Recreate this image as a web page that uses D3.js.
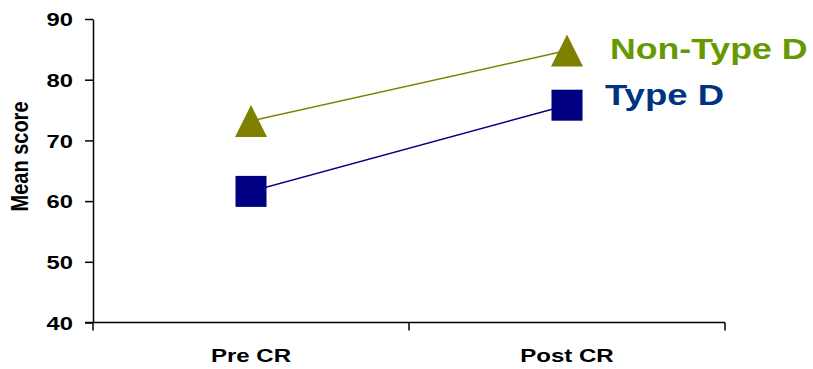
<!DOCTYPE html>
<html>
<head>
<meta charset="utf-8">
<script src="https://cdn.jsdelivr.net/npm/d3@7"></script>
<style>
  html, body { margin: 0; padding: 0; background: #fff; }
  svg { display: block; font-family: "Liberation Sans", Arial, sans-serif; font-weight: bold; }
</style>
</head>
<body>
<svg id="chart" width="813" height="369"></svg>
<script>
// Mean scores before and after cardiac rehabilitation
const categories = ["Pre CR", "Post CR"];
const nonTypeD = [73.2, 84.8];
const typeD = [61.6, 75.8];
const yTicks = [40, 50, 60, 70, 80, 90];
const seriesNames = ["Non-Type D", "Type D"];

const svg = d3.select("#chart");
const plotLeft = 93, plotRight = 725, plotTop = 19, plotBottom = 322.5;

const x = d3.scaleBand().domain(categories).range([plotLeft, plotRight]).padding(0);
const y = d3.scaleLinear().domain([40, 90]).range([plotBottom, plotTop]);
const cx = c => x(c) + x.bandwidth() / 2;

// Y axis
const yAxis = svg.append("g")
  .attr("transform", `translate(${plotLeft},0)`)
  .call(d3.axisLeft(y).tickValues(yTicks).tickSize(8).tickSizeOuter(0).tickPadding(12));
yAxis.select(".domain").attr("stroke", "#000").attr("stroke-width", 1.5);
yAxis.selectAll(".tick line").attr("stroke", "#000").attr("stroke-width", 1.5);
yAxis.selectAll(".tick text")
  .attr("x", null).attr("dy", null)
  .attr("transform", "translate(-20,6.7) scale(1.25,1)")
  .attr("text-anchor", "end")
  .style("font-size", "19px").style("font-family", "Liberation Sans, Arial, sans-serif")
  .style("font-weight", "bold").attr("fill", "#000");

// X axis with ticks at category boundaries
const xg = svg.append("g");
xg.append("line")
  .attr("x1", plotLeft - 8).attr("x2", plotRight)
  .attr("y1", y(40)).attr("y2", y(40))
  .attr("stroke", "#000").attr("stroke-width", 1.5);
const boundaries = categories.map(c => x(c)).concat([x(categories[categories.length - 1]) + x.bandwidth()]);
xg.selectAll("line.tk").data(boundaries).join("line")
  .attr("class", "tk")
  .attr("x1", d => d).attr("x2", d => d)
  .attr("y1", y(40)).attr("y2", y(40) + 8)
  .attr("stroke", "#000").attr("stroke-width", 1.5);
xg.selectAll("text").data(categories).join("text")
  .attr("transform", d => `translate(${cx(d)},362) scale(1.3,1)`)
  .attr("text-anchor", "middle")
  .style("font-size", "18.5px")
  .attr("fill", "#000")
  .text(d => d);

// Y axis title
svg.append("text")
  .attr("transform", `translate(28,156.5) scale(1.2,1) rotate(-90)`)
  .attr("text-anchor", "middle")
  .style("font-size", "20px")
  .attr("fill", "#000")
  .text("Mean score");

// Series lines and markers
const line = d3.line().x((d, i) => cx(categories[i])).y(d => y(d));

svg.append("path").datum(nonTypeD)
  .attr("d", line).attr("fill", "none")
  .attr("stroke", "#808000").attr("stroke-width", 1.5);
svg.append("path").datum(typeD)
  .attr("d", line).attr("fill", "none")
  .attr("stroke", "#000080").attr("stroke-width", 1.5);

svg.selectAll("path.tri").data(nonTypeD).join("path")
  .attr("class", "tri")
  .attr("d", d3.line()([[0, -16], [16, 16], [-16, 16]]) + "Z")
  .attr("transform", (d, i) => `translate(${cx(categories[i])},${y(d)})`)
  .attr("fill", "#808000");

svg.selectAll("rect.sq").data(typeD).join("rect")
  .attr("class", "sq")
  .attr("x", (d, i) => cx(categories[i]) - 15.5)
  .attr("y", d => y(d) - 15.5)
  .attr("width", 31).attr("height", 31)
  .attr("fill", "#000080");

// Series labels beside the final points
const labelColors = ["#669900", "#003380"];
const labelPos = [[610, 59], [605, 105]];
const labelStretch = [1.23, 1.26];
svg.selectAll("text.lbl").data(seriesNames).join("text")
  .attr("class", "lbl")
  .attr("transform", (d, i) => `translate(${labelPos[i][0]},${labelPos[i][1]}) scale(${labelStretch[i]},1)`)
  .style("font-size", "29px")
  .attr("fill", (d, i) => labelColors[i])
  .text(d => d);
</script>
</body>
</html>
